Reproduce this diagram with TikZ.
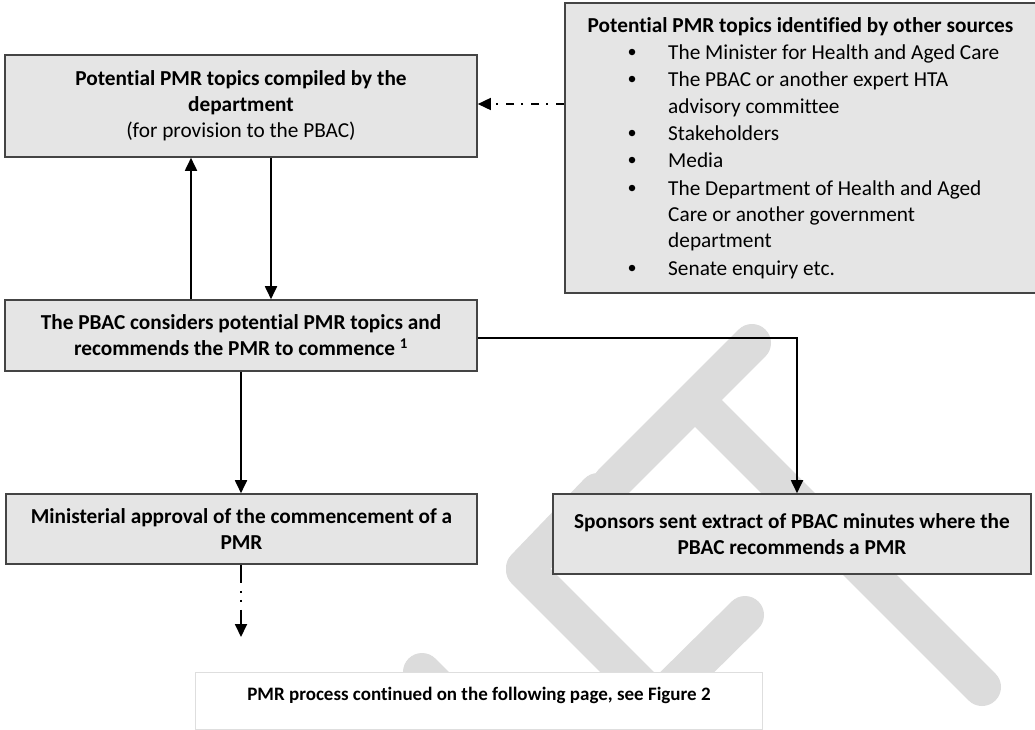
\documentclass[tikz,border=0pt]{standalone}
\usepackage{fontspec}
\setmainfont{Carlito}[Ligatures={CommonOff,ContextualOff}]
\usetikzlibrary{arrows.meta}
\definecolor{boxfill}{RGB}{229,229,229}
\definecolor{boxline}{RGB}{68,68,68}
\definecolor{wmark}{RGB}{220,220,220}
\definecolor{wline}{RGB}{222,222,222}
\tikzset{
  stepbox/.style={draw=boxline, line width=1.6pt, fill=boxfill, inner sep=0pt, align=center,
    font=\fontsize{21.3}{26}\selectfont\bfseries},
  srcbox/.style={draw=boxline, line width=1.6pt, fill=boxfill, inner sep=0pt},
  srctext/.style={inner sep=0pt, anchor=base west, font=\fontsize{21.3}{26}\selectfont},
  bul/.style={circle, fill=black, inner sep=0pt, minimum size=6.5pt},
  arr/.style={line width=1.8pt, -{Triangle[length=13pt,width=12pt]}},
  dashdot/.style={dash pattern=on 8pt off 8pt on 2pt off 7pt},
  dashdotdot/.style={dash pattern=on 18pt off 8pt on 2pt off 7pt on 2pt off 8pt},
  wm/.style={draw=wmark, line width=38pt, line cap=round},
  contbox/.style={draw=wline, line width=1pt, fill=white, inner sep=0pt},
  conttext/.style={inner sep=0pt, font=\fontsize{19}{23}\selectfont\bfseries}
}
\begin{document}
\begin{tikzpicture}[x=1pt,y=-1pt]
\useasboundingbox (0,0) rectangle (1035,729);
\clip (0,0) rectangle (1035,729);
% watermark
\draw[wm] (752,343) -- (612,483);
\draw[wm] (697,402) -- (982,687);
\draw[wm] (598,492) -- (525,568);
\draw[wm] (525,570) -- (700,745);
\draw[wm] (745,615) -- (653,706);
\draw[wm] (422,672) -- (480,730);
% boxes
\node[stepbox, minimum width=472pt, minimum height=102pt] (comp) at (241,106)
  {Potential PMR topics compiled by the\\department\\\mdseries(for provision to the PBAC)};
\node[srcbox, minimum width=480pt, minimum height=290pt] (src) at (805,148) {};
\node[inner sep=0pt, anchor=base, font=\fontsize{21.3}{26}\selectfont\bfseries] (srctitle) at (800.5,32)
  {Potential PMR topics identified by other sources};
\foreach \t/\y/\b [count=\i] in {{The Minister for Health and Aged Care}/59/1,
    {The PBAC or another expert HTA}/86/1, {advisory committee}/113/0,
    {Stakeholders}/140/1, {Media}/167/1, {The Department of Health and Aged}/195/1,
    {Care or another government}/221/0, {department}/247/0, {Senate enquiry etc.}/275/1}{
  \node[srctext] (item\i) at (668,\y) {\t};
  \ifnum\b=1 \node[bul] (bul\i) at (632,\y-7) {};\fi
}
\node[stepbox, minimum width=472pt, minimum height=71pt] (pbac) at (241,335.5)
  {The PBAC considers potential PMR topics and\\recommends the PMR to commence \textsuperscript{1}};
\node[stepbox, minimum width=471pt, minimum height=70pt] (minist) at (241.5,529)
  {Ministerial approval of the commencement of a\\PMR};
\node[stepbox, minimum width=478pt, minimum height=80pt] (spons) at (792,534)
  {Sponsors sent extract of PBAC minutes where the\\PBAC recommends a PMR};
\node[contbox, minimum width=567pt, minimum height=57pt] (cont) at (478.5,700.5) {};
\node[conttext, anchor=base] (contlabel) at (479,700)
  {PMR process continued on the following page, see Figure 2};
% connectors
\coordinate (xu) at (191,0);
\coordinate (xd) at (271,0);
\coordinate (ya) at (0,104);
\coordinate (yl) at (0,338);
\coordinate (xs) at (797,0);
\coordinate (contend) at (241,637);
\draw[arr] (xu |- pbac.north) -- (xu |- comp.south);
\draw[arr] (xd |- comp.south) -- (xd |- pbac.north);
\draw[arr, line width=1.6pt, dashdot] (src.west |- ya) -- (comp.east |- ya);
\draw[arr] (pbac.south) -- (minist.north -| pbac.south);
\draw[arr] (pbac.east |- yl) -| (xs |- spons.north);
\draw[arr, dashdotdot] (minist.south -| contend) -- (contend);
\end{tikzpicture}
\end{document}
